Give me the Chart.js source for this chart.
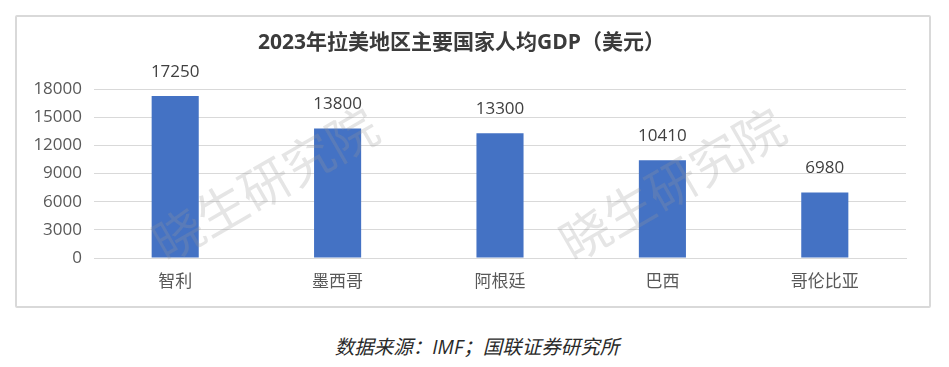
<!DOCTYPE html>
<html>
<head>
<meta charset="utf-8">
<script src="https://cdn.jsdelivr.net/npm/chart.js@4/dist/chart.umd.min.js"></script>
<style>
  html, body { margin: 0; padding: 0; background: #ffffff; }
  body { width: 949px; height: 367px; position: relative; overflow: hidden; }
  #frame { position: absolute; left: 15px; top: 15px; width: 912px; height: 289px;
           border: 2px solid #d9d9d9; border-radius: 2px; }
  #c { display: block; }
  #src { position: absolute; left: 0; width: 954px; top: 334px; text-align: center;
         font-family: "Open Sans", "Noto Sans CJK SC", sans-serif; font-style: italic;
         font-size: 19.5px; color: #2a2a2a; line-height: 26px; font-weight: 400; }
</style>
</head>
<body>
<div id="frame"><canvas id="c" width="912" height="289"></canvas></div>
<div id="src">数据来源：IMF；国联证券研究所</div>
<script>
const titleText = '2023年拉美地区主要国家人均GDP（美元）';
const categories = ['智利', '墨西哥', '阿根廷', '巴西', '哥伦比亚'];
const gdpPerCapita = [17250, 13800, 13300, 10410, 6980];
const yTicks = [0, 3000, 6000, 9000, 12000, 15000, 18000];
const watermark = '晓生研究院';

const FONT = '"Open Sans", "Noto Sans CJK SC", sans-serif';

const labelsPlugin = {
  id: 'valueLabels',
  afterDatasetsDraw(chart) {
    const ctx = chart.ctx;
    const meta = chart.getDatasetMeta(0);
    ctx.save();
    ctx.font = '17px ' + FONT;
    ctx.fillStyle = '#404040';
    ctx.textAlign = 'center';
    ctx.textBaseline = 'middle';
    meta.data.forEach((bar, i) => {
      ctx.fillText(String(gdpPerCapita[i]), bar.x, bar.y - 24);
    });
    ctx.restore();
  }
};

const watermarkPlugin = {
  id: 'watermark',
  afterDatasetsDraw(chart) {
    const ctx = chart.ctx;
    const centers = [[248, 167], [655, 167]];
    ctx.save();
    ctx.font = '50px "Noto Sans CJK SC", sans-serif';
    ctx.fillStyle = 'rgba(150,150,150,0.25)';
    ctx.textAlign = 'center';
    ctx.textBaseline = 'middle';
    centers.forEach(([x, y]) => {
      ctx.save();
      ctx.translate(x, y);
      ctx.rotate(-30 * Math.PI / 180);
      ctx.fillText(watermark, 0, 0);
      ctx.restore();
    });
    ctx.restore();
  }
};

new Chart(document.getElementById('c'), {
  type: 'bar',
  data: {
    labels: categories,
    datasets: [{
      data: gdpPerCapita,
      backgroundColor: '#4472c4',
      borderWidth: 0,
      barPercentage: 1,
      categoryPercentage: 0.29
    }]
  },
  options: {
    responsive: false,
    animation: false,
    layout: { padding: { left: 0, right: 23, top: 0, bottom: 0 } },
    plugins: {
      legend: { display: false },
      tooltip: { enabled: false },
      title: {
        display: true,
        text: titleText,
        color: '#3b3b3b',
        font: { family: FONT, size: 21, weight: 'bold', lineHeight: 1.2 },
        padding: { top: 13.4, bottom: 33.4 }
      }
    },
    scales: {
      x: {
        grid: { display: false, drawTicks: false },
        border: { display: true, color: '#d9d9d9', width: 1 },
        ticks: { color: '#595959', font: { family: FONT, size: 17 }, padding: 14 },
        afterFit(s) { s.height = 48; }
      },
      y: {
        min: 0,
        max: 18000,
        afterBuildTicks(s) { s.ticks = yTicks.map(v => ({ value: v })); },
        grid: { color: '#d9d9d9', drawTicks: false, lineWidth: 1 },
        border: { display: false },
        ticks: {
          color: '#595959', font: { family: FONT, size: 17 }, padding: 12,
          callback: (v) => String(v)
        },
        afterFit(s) { s.width = 77; }
      }
    }
  },
  plugins: [watermarkPlugin, labelsPlugin]
});
</script>
</body>
</html>
